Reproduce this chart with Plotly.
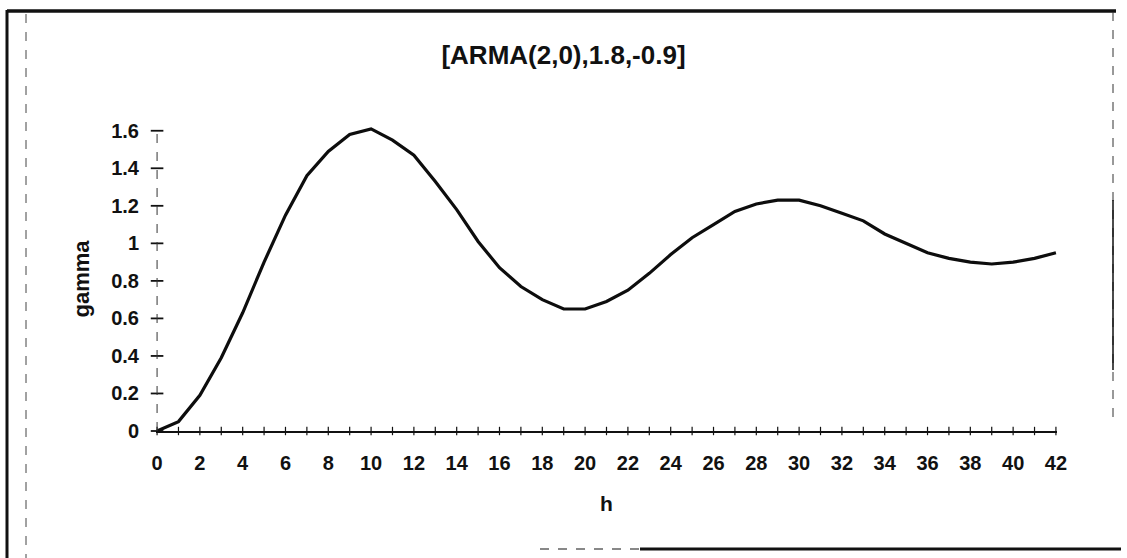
import plotly.graph_objects as go

# Lag values and the gamma curve
h = list(range(43))
gamma = [
    0.00, 0.05, 0.19, 0.39, 0.63, 0.90, 1.15, 1.36, 1.49, 1.58,
    1.61, 1.55, 1.47, 1.33, 1.18, 1.01, 0.87, 0.77, 0.70, 0.65,
    0.65, 0.69, 0.75, 0.84, 0.94, 1.03, 1.10, 1.17, 1.21, 1.23,
    1.23, 1.20, 1.16, 1.12, 1.05, 1.00, 0.95, 0.92, 0.90, 0.89,
    0.90, 0.92, 0.95,
]

y_ticks = [0, 0.2, 0.4, 0.6, 0.8, 1.0, 1.2, 1.4, 1.6]
y_tick_labels = ["0", "0.2", "0.4", "0.6", "0.8", "1", "1.2", "1.4", "1.6"]
x_ticks = list(range(0, 43, 2))
x_tick_labels = [str(v) for v in x_ticks]

title_text = "[ARMA(2,0),1.8,-0.9]"
x_title = "h"
y_title = "gamma"

# Page geometry
W, H = 1127, 558
ML, MR, MT, MB = 156, 70, 127, 127
FONT = "Liberation Sans"


def fx(p):
    return (p - ML) / (W - ML - MR)


def fy(p):
    return (H - MB - p) / (H - MT - MB)


fig = go.Figure()

# main curve
fig.add_trace(go.Scatter(
    x=h, y=gamma, mode="lines",
    line=dict(color="#0d0d0d", width=3.2),
    showlegend=False, hoverinfo="skip",
))

# cross-shaped tick marks on both axes
fig.add_trace(go.Scatter(
    x=[0] * len(y_ticks), y=y_ticks, mode="markers",
    marker=dict(symbol="line-ew", size=9, line=dict(color="#111111", width=1.8)),
    cliponaxis=False, showlegend=False, hoverinfo="skip",
))
fig.add_trace(go.Scatter(
    x=h, y=[0] * len(h), mode="markers",
    marker=dict(symbol="line-ns", size=6, line=dict(color="#111111", width=1.2)),
    cliponaxis=False, showlegend=False, hoverinfo="skip",
))


def seg(x0, y0, x1, y1, width, color="#111111", dash="solid"):
    return dict(type="line", xref="paper", yref="paper",
                x0=fx(x0), y0=fy(y0), x1=fx(x1), y1=fy(y1),
                line=dict(color=color, width=width, dash=dash), layer="above")


shapes = [
    # dashed vertical axis line
    dict(type="line", xref="x", yref="y", x0=0, x1=0, y0=0, y1=1.6,
         line=dict(color="#333333", width=1, dash="dash")),
    # outer frame
    seg(7, 11, 1116, 11, 3.5),
    seg(7, 10, 7, 558, 3),
    seg(640, 549, 1121, 549, 3),
    seg(540, 549, 640, 549, 2, color="#888888", dash="dash"),
    seg(1113, 12, 1113, 420, 1, color="#333333", dash="dash"),
    seg(1113, 200, 1113, 370, 1.5),
    seg(26, 14, 26, 558, 1, color="#444444", dash="dash"),
]

fig.update_layout(
    width=W, height=H,
    margin=dict(l=ML, r=MR, t=MT, b=MB),
    paper_bgcolor="white", plot_bgcolor="white",
    font=dict(family=FONT, color="#111111"),
    title=dict(text=title_text, x=0.5, xanchor="center",
               y=1 - 55 / H, yanchor="middle",
               font=dict(family=FONT, size=26, weight="bold", color="#111111")),
    xaxis=dict(
        range=[-0.05, 42.05], tickmode="array", tickvals=x_ticks, ticktext=x_tick_labels,
        showgrid=False, zeroline=False, showline=True, linecolor="#111111", linewidth=2,
        ticks="", ticklabelstandoff=13,
        tickfont=dict(family=FONT, size=20, weight="bold", color="#111111"),
        title=dict(text=x_title, standoff=23,
                   font=dict(family=FONT, size=21, weight="bold", color="#111111")),
    ),
    yaxis=dict(
        range=[0, 1.62], tickmode="array", tickvals=y_ticks, ticktext=y_tick_labels,
        showgrid=False, zeroline=False, showline=False,
        ticks="", ticklabelstandoff=16,
        tickfont=dict(family=FONT, size=20, weight="bold", color="#111111"),
        title=dict(text=y_title, standoff=15,
                   font=dict(family=FONT, size=22, weight="bold", color="#111111")),
    ),
    shapes=shapes,
)

fig.write_html("out.html")
